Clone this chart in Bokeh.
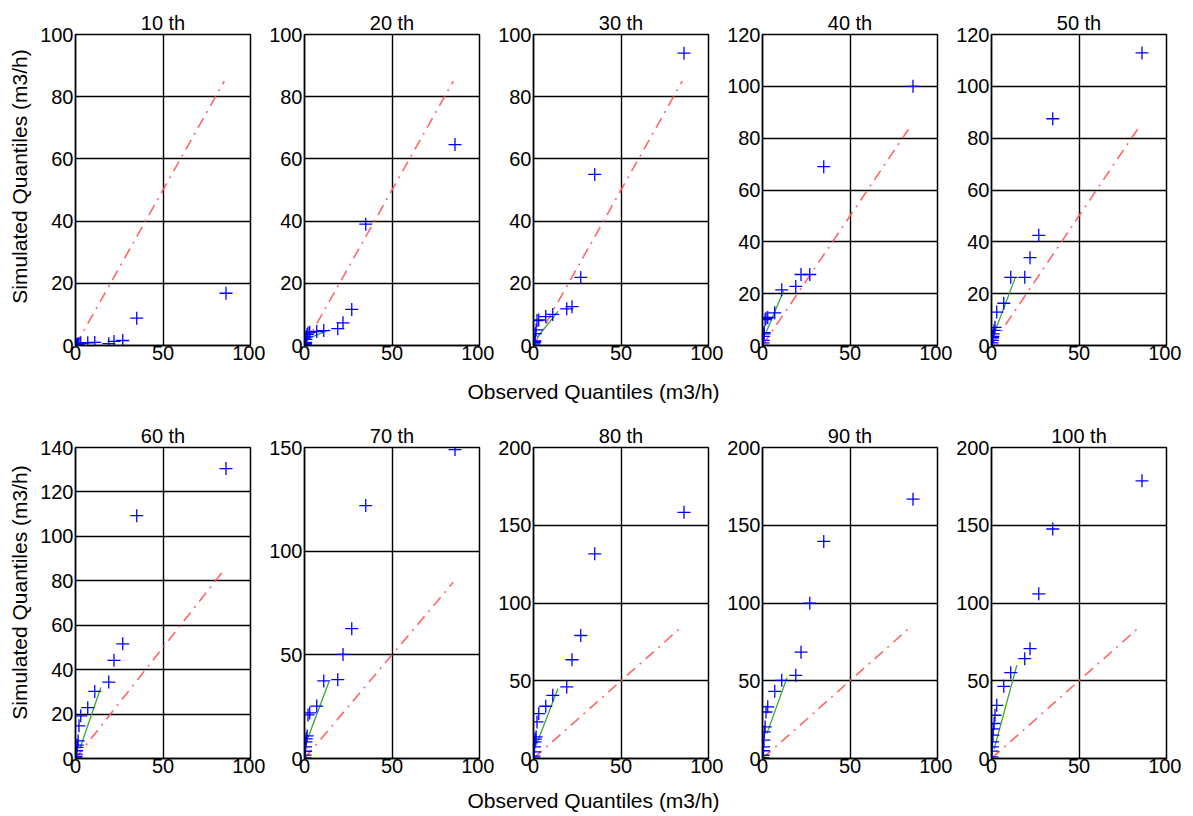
import math
from bokeh.plotting import figure
from bokeh.layouts import row, column
from bokeh.models import Range1d, FixedTicker
from bokeh.core.properties import value
from bokeh.embed import file_html
from bokeh.resources import INLINE

FONT = "Liberation Sans"

# ---------------- data ----------------
titles = ["10 th", "20 th", "30 th", "40 th", "50 th",
          "60 th", "70 th", "80 th", "90 th", "100 th"]

observed = [0.2, 0.3, 0.5, 0.6, 0.8, 1.0, 1.5, 2.0, 3.0, 7.0, 11.0, 19.0, 22.0, 27.0, 35.0, 86.0]

sim_10 = [0.0, 0.0, 0.1, 0.2, 0.3, 0.4, 0.5, 0.6, 0.8, 0.9, 1.0, 0.6, 1.3, 1.6, 8.8, 16.8]
sim_20 = [0.0, 0.3, 0.6, 1.0, 2.0, 2.8, 3.5, 4.0, 4.3, 4.5, 4.8, 5.4, 7.3, 11.6, 39.0, 64.6]
sim_30 = [0.0, 0.5, 1.0, 1.2, 1.5, 3.8, 5.0, 8.0, 8.2, 9.3, 10.0, 11.8, 12.5, 21.9, 55.0, 94.0]
sim_40 = [0.0, 1.0, 2.0, 3.5, 4.5, 5.0, 10.0, 10.5, 10.8, 12.6, 21.5, 22.8, 27.4, 27.4, 69.0, 100.0]
sim_50 = [0.0, 1.0, 2.0, 3.0, 3.5, 4.5, 5.8, 7.0, 12.9, 16.3, 26.3, 26.3, 33.9, 42.5, 87.5, 112.9]
sim_60 = [0.3, 1.0, 2.0, 3.5, 5.0, 6.0, 7.9, 14.7, 19.2, 22.9, 30.2, 34.4, 44.2, 51.6, 109.3, 130.5]
sim_70 = [0.3, 1.6, 3.5, 5.6, 8.0, 9.5, 10.9, 21.0, 22.0, 25.3, 37.4, 38.0, 50.2, 62.6, 122.0, 149.0]
sim_80 = [0.3, 1.5, 4.3, 7.5, 10.7, 12.5, 13.9, 23.5, 28.9, 33.6, 40.6, 46.0, 63.5, 79.1, 131.6, 158.3]
sim_90 = [0.5, 2.1, 5.0, 7.5, 11.8, 17.1, 20.3, 29.9, 33.2, 43.2, 50.3, 53.5, 68.4, 99.9, 139.6, 166.8]
sim_100 = [1.0, 4.7, 7.5, 10.7, 15.0, 19.0, 22.5, 27.8, 34.2, 46.4, 55.2, 64.2, 70.6, 105.9, 147.6, 178.6]
simulated = [sim_10, sim_20, sim_30, sim_40, sim_50, sim_60, sim_70, sim_80, sim_90, sim_100]

# quartile line (green) end points per panel
green_x = [[1, 14], [1, 14], [2, 14], [2, 12], [2, 13.5],
           [2.5, 14.5], [2, 14], [1.5, 14], [2.5, 14], [1.5, 14.5]]
green_y = [[0.4, 1.1], [2, 5], [2.5, 11], [5, 21], [5.5, 26],
           [4.5, 32], [10, 37], [8.5, 45], [16, 52], [6, 60]]

# 1:1 reference line
ref_line = [0, 85]

# axes
y_max = [100, 100, 100, 120, 120, 140, 150, 200, 200, 200]
y_step = [20, 20, 20, 20, 20, 20, 50, 50, 50, 50]
x_ticks = [0, 50, 100]

y_label = "Simulated Quantiles (m3/h)"
x_label = "Observed Quantiles (m3/h)"

# ---------------- layout ----------------
FRAME_W, FRAME_H = 175, 311
L, R, B = 39, 15, 22
FIG_W = L + FRAME_W + R


def panel(i, top):
    yt = list(range(0, y_max[i] + 1, y_step[i]))
    p = figure(width=FIG_W, height=top + FRAME_H + B,
               x_range=Range1d(0, 100), y_range=Range1d(0, y_max[i]),
               output_backend="svg", toolbar_location=None,
               min_border_left=L, min_border_right=R,
               min_border_top=top, min_border_bottom=B,
               title=titles[i])
    p.title.align = "center"
    p.title.text_font = FONT
    p.title.text_font_size = "20px"
    p.title.text_font_style = "normal"
    p.title.text_color = "black"
    p.title.standoff = 2
    p.title.offset = 0

    p.xaxis.ticker = FixedTicker(ticks=x_ticks)
    p.yaxis.ticker = FixedTicker(ticks=yt)
    p.xgrid.ticker = FixedTicker(ticks=x_ticks)
    p.ygrid.ticker = FixedTicker(ticks=yt)
    p.grid.grid_line_color = "black"
    p.grid.grid_line_width = 1.4
    p.grid.grid_line_alpha = 1.0

    for ax in (p.xaxis, p.yaxis):
        ax.axis_line_color = "black"
        ax.axis_line_width = 1.4
        ax.major_tick_in = 4
        ax.major_tick_out = 0
        ax.minor_tick_line_color = None
        ax.major_tick_line_color = "black"
        ax.major_label_text_font = FONT
        ax.major_label_text_font_size = "20px"
        ax.major_label_text_color = "black"
    p.xaxis.major_label_standoff = 0
    p.yaxis.major_label_standoff = 2

    p.outline_line_color = "black"
    p.outline_line_width = 1.5
    p.outline_line_alpha = 1.0
    p.background_fill_color = "white"
    p.border_fill_color = "white"

    p.line(ref_line, ref_line, line_color="#ff5555", line_alpha=0.9,
           line_width=1.6, line_dash="11 6 2 6")
    p.line(green_x[i], green_y[i], line_color="#3aa53a", line_width=1.3)
    p.scatter(observed, simulated[i], marker="cross", size=13,
              line_color="blue", line_width=1.3)
    return p


figs = [panel(i, 34 if i < 5 else 26) for i in range(10)]
row1 = row(*figs[:5], spacing=0)
row2 = row(*figs[5:], spacing=0)

TOTAL_W = FIG_W * 5
TOTAL_H = 816


def strip(w, h):
    s = figure(width=w, height=h, x_range=Range1d(0, w), y_range=Range1d(0, h),
               output_backend="svg", toolbar_location=None,
               x_axis_type=None, y_axis_type=None,
               min_border=0, min_border_left=0, min_border_right=0,
               min_border_top=0, min_border_bottom=0)
    s.outline_line_color = None
    s.grid.visible = False
    s.background_fill_color = "white"
    s.border_fill_color = "white"
    return s


xs1 = strip(TOTAL_W, 54)
xs1.text(x=[557], y=[30], text=[x_label], text_align="center", text_baseline="middle",
         text_font=value(FONT), text_font_size=value("21px"), text_color="black")
xs2 = strip(TOTAL_W, 36)
xs2.text(x=[557], y=[16], text=[x_label], text_align="center", text_baseline="middle",
         text_font=value(FONT), text_font_size=value("21px"), text_color="black")

ys = strip(36, TOTAL_H)
ys.text(x=[19, 19], y=[640, 224], text=[y_label, y_label], angle=math.pi / 2,
        text_align="center", text_baseline="middle",
        text_font=value(FONT), text_font_size=value("21px"), text_color="black")

layout = row(ys, column(row1, xs1, row2, xs2, spacing=0), spacing=0)

open("out.html", "w").write(file_html(layout, INLINE))
